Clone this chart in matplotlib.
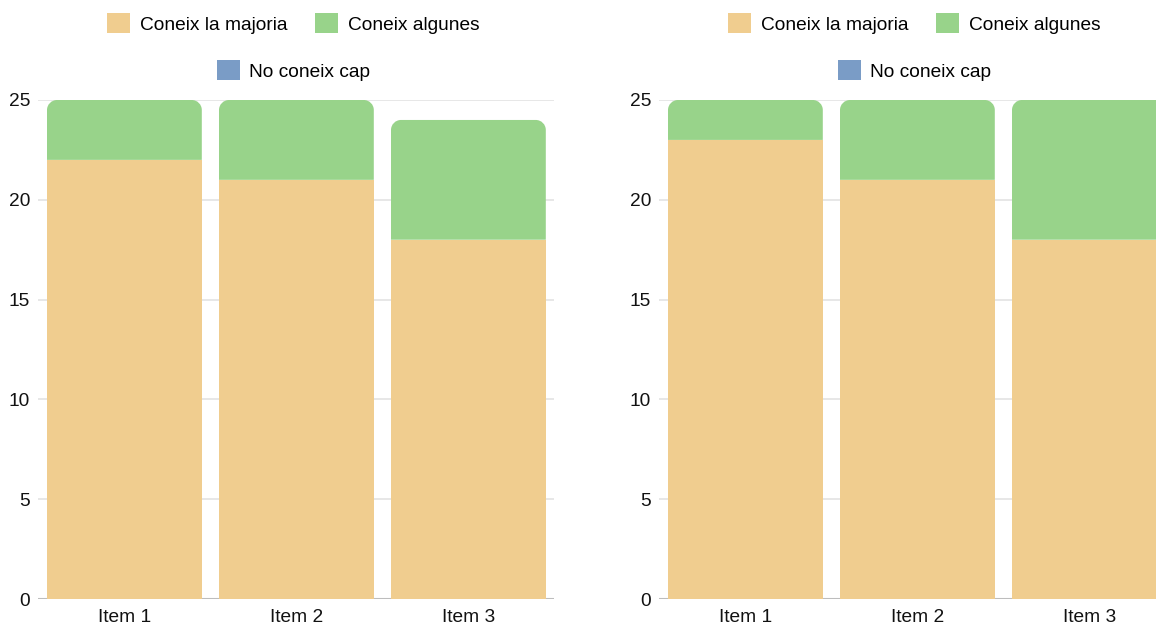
import matplotlib
matplotlib.use("Agg")
import matplotlib.pyplot as plt
from matplotlib.path import Path
from matplotlib.patches import PathPatch, Patch
from matplotlib.transforms import IdentityTransform

plt.rcParams['font.family'] = ['Liberation Sans', 'DejaVu Sans']

categories = ["Item 1", "Item 2", "Item 3"]
series_names = ["Coneix la majoria", "Coneix algunes", "No coneix cap"]
colors = ["#F0CD8F", "#98D38A", "#7A9CC6"]

left_majoria = [22, 21, 18]
left_algunes = [3, 4, 6]
left_cap = [0, 0, 0]

right_majoria = [23, 21, 18]
right_algunes = [2, 4, 7]
right_cap = [0, 0, 0]

yticks = [0, 5, 10, 15, 20, 25]

W, H = 1156, 626
FS = 13.8
fig = plt.figure(figsize=(W / 100, H / 100), dpi=100)


def rounded_top_path(x0, y0, x1, y1, r):
    r = min(r, (x1 - x0) / 2, (y1 - y0))
    k = 0.5523 * r
    verts = [
        (x0, y0), (x0, y1 - r),
        (x0, y1 - r + k), (x0 + r - k, y1), (x0 + r, y1),
        (x1 - r, y1),
        (x1 - r + k, y1), (x1, y1 - r + k), (x1, y1 - r),
        (x1, y0), (x0, y0),
    ]
    codes = [Path.MOVETO, Path.LINETO,
             Path.CURVE4, Path.CURVE4, Path.CURVE4,
             Path.LINETO,
             Path.CURVE4, Path.CURVE4, Path.CURVE4,
             Path.LINETO, Path.CLOSEPOLY]
    return Path(verts, codes)


def draw_chart(rect, series):
    ax = fig.add_axes(rect)
    ax.set_xlim(-0.5, len(categories) - 0.5)
    ax.set_ylim(0, 25)
    x = list(range(len(categories)))
    bottoms = [0] * len(categories)
    containers = []
    for vals, c in zip(series, colors):
        bc = ax.bar(x, vals, width=0.9, bottom=bottoms, color=c,
                    linewidth=0, zorder=2)
        containers.append((bc, vals))
        bottoms = [b + v for b, v in zip(bottoms, vals)]

    # round the top corners of the uppermost non-empty segment in each stack
    for i in range(len(categories)):
        top = None
        for bc, vals in containers:
            if vals[i] > 0:
                top = bc.patches[i]
        if top is None:
            continue
        bx, by = top.get_x(), top.get_y()
        bw, bh = top.get_width(), top.get_height()
        (px0, py0) = ax.transData.transform((bx, by))
        (px1, py1) = ax.transData.transform((bx + bw, by + bh))
        path = rounded_top_path(px0, py0, px1, py1, 10)
        pp = PathPatch(path, facecolor=top.get_facecolor(), edgecolor='none',
                       transform=IdentityTransform(), zorder=2)
        pp.set_clip_on(False)
        ax.add_artist(pp)
        top.set_visible(False)

    ax.set_yticks(yticks)
    ax.set_xticks(x)
    ax.set_xticklabels(categories)
    for s in ax.spines.values():
        s.set_visible(False)
    ax.grid(axis='y', color='#E3E3E3', linewidth=1.2, zorder=0)
    ax.set_axisbelow(True)
    ax.axhline(0, color='#BDBDBD', linewidth=1.5, zorder=1)
    ax.tick_params(axis='both', length=0, labelsize=FS, labelcolor='#111111')
    ax.tick_params(axis='y', pad=6)
    ax.tick_params(axis='x', pad=7)

    handles = [Patch(facecolor=c, edgecolor='none') for c in colors]
    leg_kw = dict(frameon=False, fontsize=FS, handlelength=1.2,
                  handleheight=1.2, handletextpad=0.5, columnspacing=1.45,
                  borderaxespad=0, borderpad=0, loc='center',
                  bbox_transform=fig.transFigure)
    cx = rect[0] + rect[2] / 2
    leg1 = ax.legend(handles[:2], series_names[:2], ncol=2,
                     bbox_to_anchor=(cx - 3 / W, 1 - 23.5 / H), **leg_kw)
    ax.add_artist(leg1)
    ax.legend(handles[2:], series_names[2:], ncol=1,
              bbox_to_anchor=(cx - 3 / W, 1 - 70.5 / H), **leg_kw)
    return ax


y_bottom = (H - 599) / H
y_height = 499 / H
draw_chart([38.4 / W, y_bottom, 516 / W, y_height],
           [left_majoria, left_algunes, left_cap])
draw_chart([659.4 / W, y_bottom, 516 / W, y_height],
           [right_majoria, right_algunes, right_cap])

fig.savefig("out.png", dpi=100)
